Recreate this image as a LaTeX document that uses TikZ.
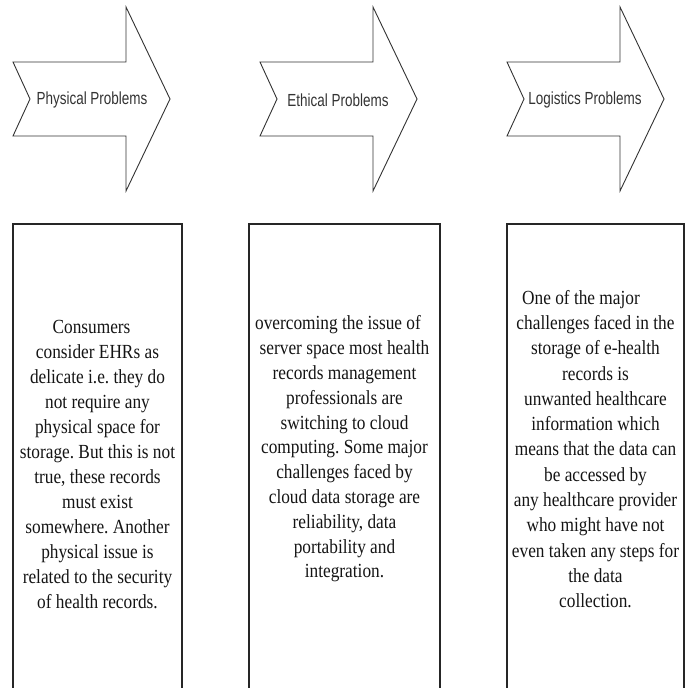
\documentclass[tikz,border=0pt]{standalone}
\usepackage{fontspec}
\setmainfont{Liberation Serif}
\newfontfamily\labelfont[FakeStretch=0.77]{Liberation Sans}
\newfontfamily\bodyfont[FakeStretch=0.865]{Liberation Serif}
\frenchspacing
\begin{document}
\begin{tikzpicture}[x=1pt,y=-1pt,
  outline/.style={draw=black!80,line width=0.9pt,fill=white,line join=miter},
  panel/.style={draw=black!85,line width=1.2pt},
  headlabel/.style={font=\labelfont\fontsize{17.5}{20}\selectfont,text=black!80,inner sep=0pt},
  bodytext/.style={font=\bodyfont\fontsize{20}{#1}\selectfont,text=black!92,align=center,inner sep=0pt}]
\useasboundingbox (0,0) rectangle (692,687);
\clip (0,0) rectangle (692,687);

% notched block arrows along the top
\foreach \lx in {13,260,507}{
  \draw[outline] (\lx,62) -- ++(113,0) -- ++(0,-55) -- (\lx+157,99)
    -- (\lx+113,191) -- ++(0,-55) -- (\lx,136) -- (\lx+17,99) -- cycle;
}
\node[headlabel] (hphys) at (92,100) {Physical Problems};
\node[headlabel] (heth) at (338,100) {Ethical Problems};
\node[headlabel] (hlog) at (585,100) {Logistics Problems};

% text panels, running off the lower edge
\draw[panel] (13,224) rectangle (182,720);
\draw[panel] (249,224) rectangle (440,720);
\draw[panel] (507,224) rectangle (684,720);

\node[bodytext=25] (tphys) at (97.5,465) {Consumers\hspace*{12pt}\\
consider EHRs as\\
delicate i.e. they do\\
not require any\\
physical space for\\
storage. But this is not\\
true, these records\\
must exist\\
somewhere. Another\\
physical issue is\\
related to the security\\
of health records.};

\node[bodytext=24.8] (teth) at (344.5,449) {overcoming the issue of\hspace*{13pt}\\
server space most health\\
records management\\
professionals are\\
switching to cloud\\
computing. Some major\\
challenges faced by\\
cloud data storage are\\
reliability, data\\
portability and\\
integration.};

\node[bodytext=25.3] (tlog) at (595.5,449) {One of the major\hspace*{29pt}\\
challenges faced in the\\
storage of e-health\\
records is\\
unwanted healthcare\\
information which\\
means that the data can\\
be accessed by\\
any healthcare provider\\
who might have not\\
even taken any steps for\\
the data\\
collection.};
\end{tikzpicture}
\end{document}
